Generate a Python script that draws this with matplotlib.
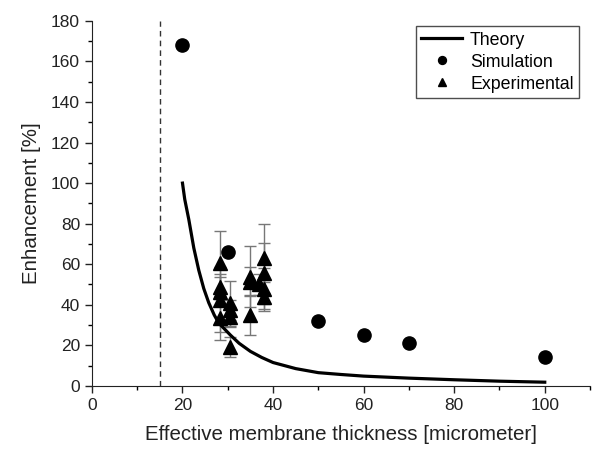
"""Enhancement vs effective membrane thickness"""

import matplotlib
matplotlib.use("Agg")
import matplotlib.pyplot as plt
from matplotlib.ticker import MultipleLocator

plt.rcParams["font.family"] = ["Liberation Sans", "DejaVu Sans"]

# Theory curve
theory_x = [20, 20.5, 21.4, 22.5, 23.6, 24.7, 25.8, 27, 28, 29.3, 30.6, 32.5,
            35, 37.5, 40, 42.5, 45, 50, 55, 60, 70, 80, 90, 100]
theory_y = [100, 92, 82, 68, 57, 48, 41, 35, 31, 28, 25, 21,
            17, 14, 11.5, 10, 8.5, 6.5, 5.6, 4.8, 3.8, 3.0, 2.3, 1.8]

# Simulation points
sim_x = [20, 30, 50, 60, 70, 100]
sim_y = [168, 66, 32, 25, 21, 14]

# Experimental points with error bars
exp_x = [28.2, 28.2, 28.2, 28.2, 28.2, 30.5, 30.5, 30.5, 30.5,
         34.9, 34.9, 34.9, 36.8, 38, 38, 38, 38]
exp_y = [60.4, 49, 46.5, 42.4, 33.5, 40.7, 37.4, 34, 19.3,
         53.8, 51.4, 35, 50, 63, 55.5, 48, 44]
exp_err = [16, 6, 7, 16, 11, 11, 5, 5, 5,
           15, 7, 10, 5, 17, 15, 10, 7]

cutoff_x = 15


def plot_enhancement():
    fig = plt.figure(figsize=(5.93, 4.55), dpi=100)
    ax = fig.add_axes([0.155, 0.152, 0.84, 0.802])

    ax.axvline(cutoff_x, color="#333333", linestyle=(0, (4, 3)), linewidth=1)
    ax.errorbar(exp_x, exp_y, yerr=exp_err, fmt="none", ecolor="#777777",
                elinewidth=1, capsize=4, capthick=1, zorder=2)
    ax.plot(theory_x, theory_y, color="black", linewidth=2.3, label="Theory",
            zorder=3, solid_joinstyle="round")
    ax.plot(sim_x, sim_y, "o", color="black", markersize=9.5, label="Simulation", zorder=4)
    ax.plot(exp_x, exp_y, "^", color="black", markersize=10, label="Experimental", zorder=4)

    ax.set_xlim(0, 110)
    ax.set_ylim(0, 180)
    ax.xaxis.set_major_locator(MultipleLocator(20))
    ax.xaxis.set_minor_locator(MultipleLocator(10))
    ax.yaxis.set_major_locator(MultipleLocator(20))
    ax.yaxis.set_minor_locator(MultipleLocator(10))
    ax.tick_params(which="major", direction="out", length=5, width=1,
                   labelsize=12.5, colors="#222222")
    ax.tick_params(which="minor", direction="out", length=3, width=1)
    for side in ["top", "right"]:
        ax.spines[side].set_visible(False)
    for side in ["left", "bottom"]:
        ax.spines[side].set_color("#222222")

    ax.set_xlabel("Effective membrane thickness [micrometer]", fontsize=14.8,
                  labelpad=9, color="#222222")
    ax.set_ylabel("Enhancement [%]", fontsize=14.8, labelpad=7, color="#222222")

    leg = ax.legend(loc="upper right", bbox_to_anchor=(0.985, 0.995), fontsize=12.8,
                    markerscale=0.6, fancybox=False, edgecolor="#222222",
                    handlelength=2.3, handletextpad=0.45, borderpad=0.3,
                    labelspacing=0.28, borderaxespad=0.2)
    leg.get_frame().set_linewidth(1)

    fig.savefig("out.png", dpi=100)


plot_enhancement()
